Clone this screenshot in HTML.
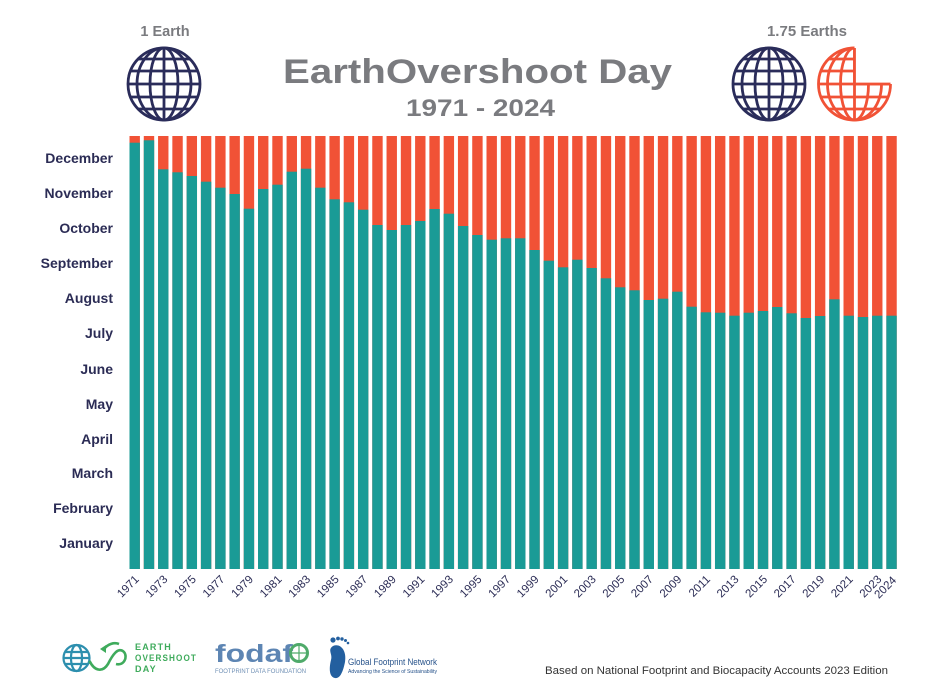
<!DOCTYPE html>
<html>
<head>
<meta charset="utf-8">
<style>
  html,body{margin:0;padding:0;background:#ffffff;}
  svg{display:block;}
  text{font-family:"Liberation Sans",sans-serif;}
</style>
</head>
<body>
<svg width="928" height="696" viewBox="0 0 928 696" xmlns="http://www.w3.org/2000/svg">
  <defs>
    <g id="globe" fill="none" stroke-width="2.8">
      <circle r="36"/>
      <line x1="0" y1="-36" x2="0" y2="36"/>
      <ellipse rx="14" ry="36"/>
      <ellipse rx="27" ry="36"/>
      <line x1="-36" y1="0" x2="36" y2="0"/>
      <line x1="-33.6" y1="-13" x2="33.6" y2="-13"/>
      <line x1="-33.6" y1="13" x2="33.6" y2="13"/>
      <line x1="-25.9" y1="-25" x2="25.9" y2="-25"/>
      <line x1="-25.9" y1="25" x2="25.9" y2="25"/>
    </g>
    <clipPath id="cut">
      <path d="M -40 -40 L 0 -40 L 0 0 L 40 0 L 40 40 L -40 40 Z"/>
    </clipPath>
  </defs>

  <rect width="928" height="696" fill="#ffffff"/>

  <!-- Header -->
  <text x="165" y="36" font-size="14.5" font-weight="bold" fill="#7a7b7f" text-anchor="middle">1 Earth</text>
  <use href="#globe" x="164" y="84" stroke="#2a2c5a"/>

  <text x="283" y="83" font-size="34" font-weight="bold" fill="#7a7b7f" textLength="389" lengthAdjust="spacingAndGlyphs">EarthOvershoot Day</text>
  <text x="406" y="116" font-size="24" font-weight="bold" fill="#7a7b7f" textLength="149" lengthAdjust="spacingAndGlyphs">1971 - 2024</text>

  <text x="807" y="36" font-size="15" font-weight="bold" fill="#7a7b7f" text-anchor="middle">1.75 Earths</text>
  <use href="#globe" x="769" y="84" stroke="#2a2c5a"/>
  <g transform="translate(854.5,84)" stroke="#f15236">
    <use href="#globe" clip-path="url(#cut)"/>
    <path d="M 0 -36 L 0 0 L 36 0" fill="none" stroke-width="2.8"/>
  </g>

  <!-- Month labels -->
  <g font-size="14" font-weight="bold" fill="#2b2c55" text-anchor="end">
    <text x="113" y="163">December</text>
    <text x="113" y="198">November</text>
    <text x="113" y="233">October</text>
    <text x="113" y="268">September</text>
    <text x="113" y="303">August</text>
    <text x="113" y="338">July</text>
    <text x="113" y="374">June</text>
    <text x="113" y="409">May</text>
    <text x="113" y="444">April</text>
    <text x="113" y="478">March</text>
    <text x="113" y="513">February</text>
    <text x="113" y="548">January</text>
  </g>

  <!-- Bars: red background -->
  <g fill="#f15236">
    <rect x="129.5" y="136" width="10.4" height="433"/>
    <rect x="143.78" y="136" width="10.4" height="433"/>
    <rect x="158.06" y="136" width="10.4" height="433"/>
    <rect x="172.34" y="136" width="10.4" height="433"/>
    <rect x="186.62" y="136" width="10.4" height="433"/>
    <rect x="200.9" y="136" width="10.4" height="433"/>
    <rect x="215.18" y="136" width="10.4" height="433"/>
    <rect x="229.46" y="136" width="10.4" height="433"/>
    <rect x="243.74" y="136" width="10.4" height="433"/>
    <rect x="258.02" y="136" width="10.4" height="433"/>
    <rect x="272.3" y="136" width="10.4" height="433"/>
    <rect x="286.58" y="136" width="10.4" height="433"/>
    <rect x="300.86" y="136" width="10.4" height="433"/>
    <rect x="315.14" y="136" width="10.4" height="433"/>
    <rect x="329.42" y="136" width="10.4" height="433"/>
    <rect x="343.7" y="136" width="10.4" height="433"/>
    <rect x="357.98" y="136" width="10.4" height="433"/>
    <rect x="372.26" y="136" width="10.4" height="433"/>
    <rect x="386.54" y="136" width="10.4" height="433"/>
    <rect x="400.82" y="136" width="10.4" height="433"/>
    <rect x="415.1" y="136" width="10.4" height="433"/>
    <rect x="429.38" y="136" width="10.4" height="433"/>
    <rect x="443.66" y="136" width="10.4" height="433"/>
    <rect x="457.94" y="136" width="10.4" height="433"/>
    <rect x="472.22" y="136" width="10.4" height="433"/>
    <rect x="486.5" y="136" width="10.4" height="433"/>
    <rect x="500.78" y="136" width="10.4" height="433"/>
    <rect x="515.06" y="136" width="10.4" height="433"/>
    <rect x="529.34" y="136" width="10.4" height="433"/>
    <rect x="543.62" y="136" width="10.4" height="433"/>
    <rect x="557.9" y="136" width="10.4" height="433"/>
    <rect x="572.18" y="136" width="10.4" height="433"/>
    <rect x="586.46" y="136" width="10.4" height="433"/>
    <rect x="600.74" y="136" width="10.4" height="433"/>
    <rect x="615.02" y="136" width="10.4" height="433"/>
    <rect x="629.3" y="136" width="10.4" height="433"/>
    <rect x="643.58" y="136" width="10.4" height="433"/>
    <rect x="657.86" y="136" width="10.4" height="433"/>
    <rect x="672.14" y="136" width="10.4" height="433"/>
    <rect x="686.42" y="136" width="10.4" height="433"/>
    <rect x="700.7" y="136" width="10.4" height="433"/>
    <rect x="714.98" y="136" width="10.4" height="433"/>
    <rect x="729.26" y="136" width="10.4" height="433"/>
    <rect x="743.54" y="136" width="10.4" height="433"/>
    <rect x="757.82" y="136" width="10.4" height="433"/>
    <rect x="772.1" y="136" width="10.4" height="433"/>
    <rect x="786.38" y="136" width="10.4" height="433"/>
    <rect x="800.66" y="136" width="10.4" height="433"/>
    <rect x="814.94" y="136" width="10.4" height="433"/>
    <rect x="829.22" y="136" width="10.4" height="433"/>
    <rect x="843.5" y="136" width="10.4" height="433"/>
    <rect x="857.78" y="136" width="10.4" height="433"/>
    <rect x="872.06" y="136" width="10.4" height="433"/>
    <rect x="886.34" y="136" width="10.4" height="433"/>
  </g>

  <!-- Bars: teal overshoot day -->
  <g fill="#1a9b96">
    <rect x="129.5" y="142.7" width="10.4" height="426.3"/>
    <rect x="143.78" y="140.3" width="10.4" height="428.7"/>
    <rect x="158.06" y="169.3" width="10.4" height="399.7"/>
    <rect x="172.34" y="172.3" width="10.4" height="396.7"/>
    <rect x="186.62" y="176" width="10.4" height="393"/>
    <rect x="200.9" y="181.7" width="10.4" height="387.3"/>
    <rect x="215.18" y="187.7" width="10.4" height="381.3"/>
    <rect x="229.46" y="194" width="10.4" height="375"/>
    <rect x="243.74" y="208.7" width="10.4" height="360.3"/>
    <rect x="258.02" y="189" width="10.4" height="380"/>
    <rect x="272.3" y="184.7" width="10.4" height="384.3"/>
    <rect x="286.58" y="171.7" width="10.4" height="397.3"/>
    <rect x="300.86" y="168.7" width="10.4" height="400.3"/>
    <rect x="315.14" y="187.7" width="10.4" height="381.3"/>
    <rect x="329.42" y="199.3" width="10.4" height="369.7"/>
    <rect x="343.7" y="202.3" width="10.4" height="366.7"/>
    <rect x="357.98" y="209.7" width="10.4" height="359.3"/>
    <rect x="372.26" y="225" width="10.4" height="344"/>
    <rect x="386.54" y="230" width="10.4" height="339"/>
    <rect x="400.82" y="225" width="10.4" height="344"/>
    <rect x="415.1" y="221" width="10.4" height="348"/>
    <rect x="429.38" y="209" width="10.4" height="360"/>
    <rect x="443.66" y="213.7" width="10.4" height="355.3"/>
    <rect x="457.94" y="226" width="10.4" height="343"/>
    <rect x="472.22" y="235" width="10.4" height="334"/>
    <rect x="486.5" y="239.7" width="10.4" height="329.3"/>
    <rect x="500.78" y="238.3" width="10.4" height="330.7"/>
    <rect x="515.06" y="238.3" width="10.4" height="330.7"/>
    <rect x="529.34" y="250" width="10.4" height="319"/>
    <rect x="543.62" y="260.7" width="10.4" height="308.3"/>
    <rect x="557.9" y="267.3" width="10.4" height="301.7"/>
    <rect x="572.18" y="259.7" width="10.4" height="309.3"/>
    <rect x="586.46" y="268" width="10.4" height="301"/>
    <rect x="600.74" y="278.3" width="10.4" height="290.7"/>
    <rect x="615.02" y="287.3" width="10.4" height="281.7"/>
    <rect x="629.3" y="290.3" width="10.4" height="278.7"/>
    <rect x="643.58" y="300" width="10.4" height="269"/>
    <rect x="657.86" y="298.7" width="10.4" height="270.3"/>
    <rect x="672.14" y="291.7" width="10.4" height="277.3"/>
    <rect x="686.42" y="306.7" width="10.4" height="262.3"/>
    <rect x="700.7" y="312.3" width="10.4" height="256.7"/>
    <rect x="714.98" y="312.7" width="10.4" height="256.3"/>
    <rect x="729.26" y="315.7" width="10.4" height="253.3"/>
    <rect x="743.54" y="312.7" width="10.4" height="256.3"/>
    <rect x="757.82" y="311" width="10.4" height="258"/>
    <rect x="772.1" y="307" width="10.4" height="262"/>
    <rect x="786.38" y="313.3" width="10.4" height="255.7"/>
    <rect x="800.66" y="318" width="10.4" height="251"/>
    <rect x="814.94" y="316" width="10.4" height="253"/>
    <rect x="829.22" y="299.3" width="10.4" height="269.7"/>
    <rect x="843.5" y="315.7" width="10.4" height="253.3"/>
    <rect x="857.78" y="317" width="10.4" height="252"/>
    <rect x="872.06" y="315.7" width="10.4" height="253.3"/>
    <rect x="886.34" y="315.7" width="10.4" height="253.3"/>
  </g>

  <!-- Year labels -->
  <g font-size="11.5" fill="#2b2c55" text-anchor="end">
    <text x="139.7" y="580" transform="rotate(-45 139.7 580)">1971</text>
    <text x="168.26" y="580" transform="rotate(-45 168.26 580)">1973</text>
    <text x="196.82" y="580" transform="rotate(-45 196.82 580)">1975</text>
    <text x="225.38" y="580" transform="rotate(-45 225.38 580)">1977</text>
    <text x="253.94" y="580" transform="rotate(-45 253.94 580)">1979</text>
    <text x="282.5" y="580" transform="rotate(-45 282.5 580)">1981</text>
    <text x="311.06" y="580" transform="rotate(-45 311.06 580)">1983</text>
    <text x="339.62" y="580" transform="rotate(-45 339.62 580)">1985</text>
    <text x="368.18" y="580" transform="rotate(-45 368.18 580)">1987</text>
    <text x="396.74" y="580" transform="rotate(-45 396.74 580)">1989</text>
    <text x="425.3" y="580" transform="rotate(-45 425.3 580)">1991</text>
    <text x="453.86" y="580" transform="rotate(-45 453.86 580)">1993</text>
    <text x="482.42" y="580" transform="rotate(-45 482.42 580)">1995</text>
    <text x="510.98" y="580" transform="rotate(-45 510.98 580)">1997</text>
    <text x="539.54" y="580" transform="rotate(-45 539.54 580)">1999</text>
    <text x="568.1" y="580" transform="rotate(-45 568.1 580)">2001</text>
    <text x="596.66" y="580" transform="rotate(-45 596.66 580)">2003</text>
    <text x="625.22" y="580" transform="rotate(-45 625.22 580)">2005</text>
    <text x="653.78" y="580" transform="rotate(-45 653.78 580)">2007</text>
    <text x="682.34" y="580" transform="rotate(-45 682.34 580)">2009</text>
    <text x="710.9" y="580" transform="rotate(-45 710.9 580)">2011</text>
    <text x="739.46" y="580" transform="rotate(-45 739.46 580)">2013</text>
    <text x="768.02" y="580" transform="rotate(-45 768.02 580)">2015</text>
    <text x="796.58" y="580" transform="rotate(-45 796.58 580)">2017</text>
    <text x="825.14" y="580" transform="rotate(-45 825.14 580)">2019</text>
    <text x="853.7" y="580" transform="rotate(-45 853.7 580)">2021</text>
    <text x="882.26" y="580" transform="rotate(-45 882.26 580)">2023</text>
    <text x="897" y="581" transform="rotate(-45 897 581)">2024</text>
  </g>

  <!-- Footer logos -->
  <!-- Earth Overshoot Day -->
  <g fill="none" stroke="#2d8fae" stroke-width="2.2">
    <circle cx="76.5" cy="658" r="13"/>
    <ellipse cx="76.5" cy="658" rx="5.5" ry="13"/>
    <line x1="63.5" y1="658" x2="89.5" y2="658"/>
    <line x1="65" y1="652" x2="88" y2="652"/>
    <line x1="65" y1="664" x2="88" y2="664"/>
  </g>
  <path d="M 89.5 661 C 95 672, 103 672, 108 664 C 112 656, 118 646, 124 652 C 128 657, 124 666, 116 664" fill="none" stroke="#3fab5c" stroke-width="2.6"/>
  <path d="M 100 649 L 106 645 L 106 653 Z" fill="#3fab5c"/>
  <path d="M 104 649 C 108 644, 114 642, 119 644" fill="none" stroke="#3fab5c" stroke-width="2.6"/>
  <g font-size="9" font-weight="bold" fill="#3fab5c" letter-spacing="1.2">
    <text x="135" y="650">EARTH</text>
    <text x="135" y="661" textLength="62" lengthAdjust="spacingAndGlyphs">OVERSHOOT</text>
    <text x="135" y="672">DAY</text>
  </g>

  <!-- FODAFO -->
  <text x="215" y="662" font-size="25" font-weight="bold" fill="#5d85b3" textLength="78" lengthAdjust="spacingAndGlyphs">fodaf</text>
  <circle cx="299" cy="653" r="8.5" fill="none" stroke="#4faa6a" stroke-width="3"/>
  <line x1="290.5" y1="653" x2="307.5" y2="653" stroke="#4faa6a" stroke-width="1.2"/>
  <line x1="299" y1="644.5" x2="299" y2="661.5" stroke="#4faa6a" stroke-width="1.2"/>
  <text x="215" y="673" font-size="6.5" fill="#7090b5" textLength="91" lengthAdjust="spacingAndGlyphs">FOOTPRINT DATA FOUNDATION</text>

  <!-- Global Footprint Network -->
  <path d="M 333 646 C 340 643, 347 650, 345 662 C 343 672, 340 679, 335 678 C 329 677, 329 668, 331 660 C 333 654, 327 650, 333 646 Z" fill="#235f9f"/>
  <g fill="#235f9f">
    <circle cx="333" cy="640" r="2.6"/>
    <circle cx="338" cy="638.5" r="1.9"/>
    <circle cx="342" cy="639" r="1.7"/>
    <circle cx="345.5" cy="640.5" r="1.5"/>
    <circle cx="348" cy="643" r="1.3"/>
  </g>
  <text x="348" y="665" font-size="9.5" fill="#26528a" textLength="89" lengthAdjust="spacingAndGlyphs">Global Footprint Network</text>
  <text x="348" y="673" font-size="5" fill="#26528a" textLength="89" lengthAdjust="spacingAndGlyphs">Advancing the Science of Sustainability</text>

  <!-- Source credit -->
  <text x="545" y="674" font-size="11" fill="#333333" textLength="343" lengthAdjust="spacingAndGlyphs">Based on National Footprint and Biocapacity Accounts 2023 Edition</text>
</svg>
</body>
</html>
